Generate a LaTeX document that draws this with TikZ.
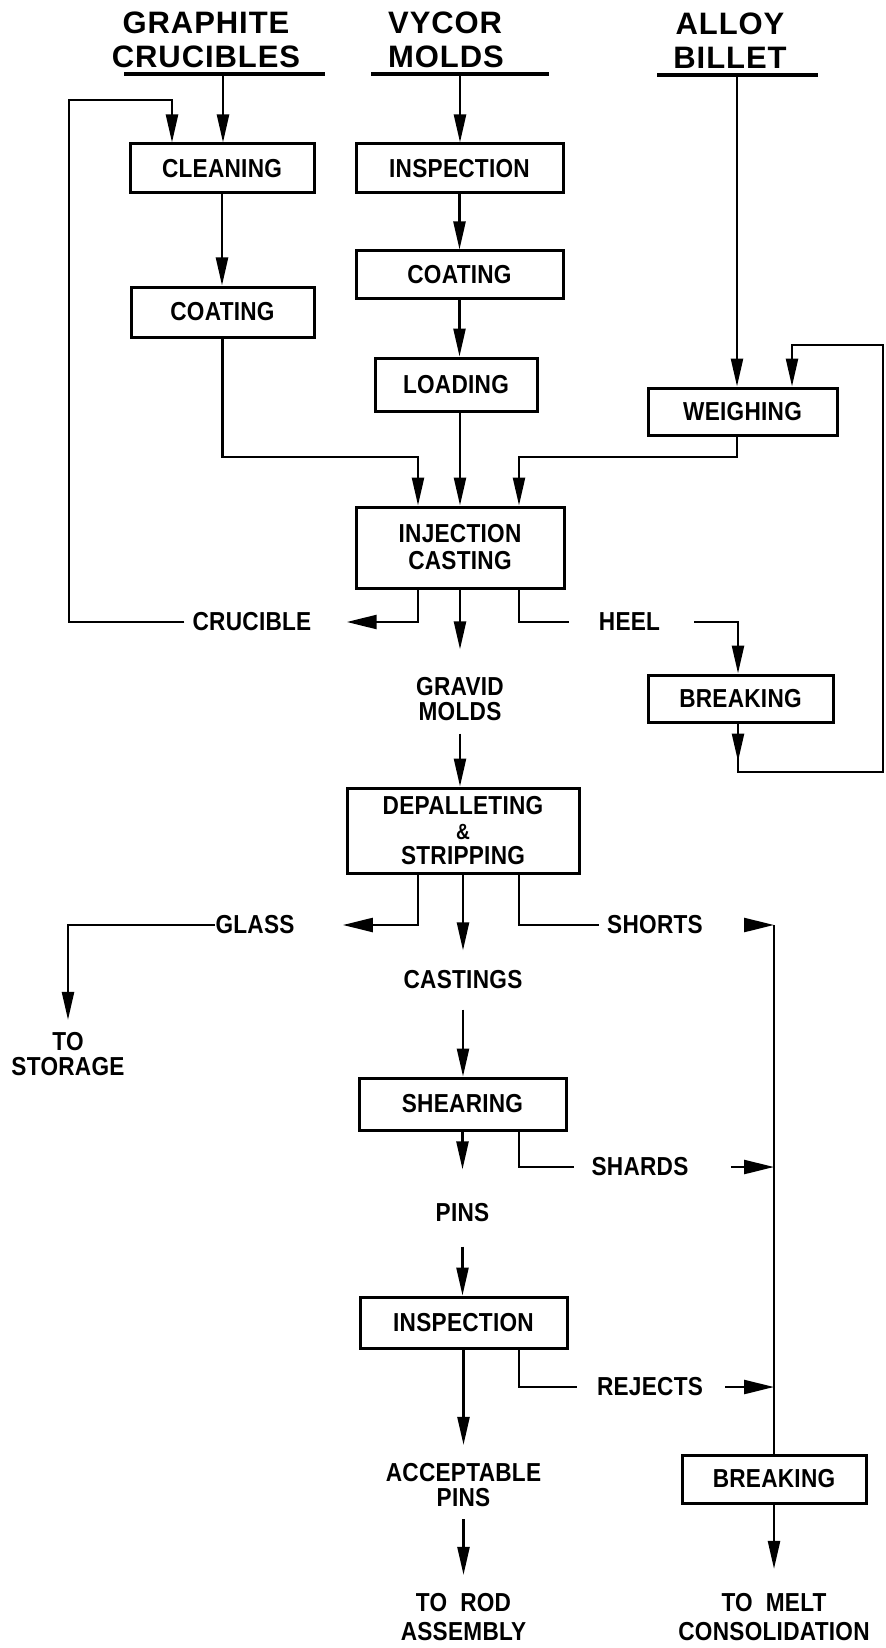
\documentclass[tikz,border=0pt]{standalone}
\usepackage{fontspec}
\setmainfont{Liberation Sans}
\newfontfamily\lbf{Liberation Sans}[FakeStretch=0.87,LetterSpace=1]
\newfontfamily\ttf{Liberation Sans}[LetterSpace=3]
\usetikzlibrary{arrows.meta}
\tikzset{
  pbox/.style={draw, line width=1.5pt, inner sep=0pt, align=center, font=\lbf\bfseries\fontsize{13}{13.5}\selectfont},
  lbl/.style={inner sep=0pt, align=center, font=\lbf\bfseries\fontsize{13}{12.5}\selectfont},
  ttl/.style={inner sep=0pt, font=\ttf\bfseries\fontsize{15.5}{17}\selectfont},
  ln/.style={line width=1.2pt},
  arr/.style={ln, -{Triangle[length=14pt,width=6pt]}},
  harr/.style={ln, -{Triangle[length=15pt,width=7pt]}},
  ul/.style={line width=1.6pt},
}
\begin{document}
\begin{tikzpicture}[x=0.5pt,y=-0.5pt]
\useasboundingbox (0,0) rectangle (885,1648);
% titles
\node[ttl, align=center] (tgr) at (206,39.5) {GRAPHITE\\CRUCIBLES};
\node[ttl, align=left] (tvy) at (446,39.5) {VYCOR\\MOLDS};
\node[ttl, align=center] (tal) at (730,40.5) {ALLOY\\BILLET};
\draw[ul] (124,74) -- (325,74);
\draw[ul] (371,74) -- (549,74);
\draw[ul] (657,75) -- (818,75);
% boxes
\node[pbox, minimum width=92pt, minimum height=24.5pt] (cleaning) at (222,168.5) {CLEANING};
\node[pbox, minimum width=91.5pt, minimum height=25pt] (coatA) at (222.5,312) {COATING};
\node[pbox, minimum width=103.5pt, minimum height=24.5pt] (inspA) at (459.5,168.5) {INSPECTION};
\node[pbox, minimum width=103.5pt, minimum height=23.5pt] (coatB) at (459.5,274.5) {COATING};
\node[pbox, minimum width=81pt, minimum height=26.5pt] (loading) at (456,384.5) {LOADING};
\node[pbox, minimum width=94.5pt, minimum height=23.5pt] (weighing) at (742.5,411.5) {WEIGHING};
\node[pbox, minimum width=104pt, minimum height=40.5pt] (inject) at (460,547.5) {INJECTION\\CASTING};
\node[pbox, minimum width=92.5pt, minimum height=23.5pt] (break1) at (740.5,698.5) {BREAKING};
\node[pbox, minimum width=116pt, minimum height=42.5pt, font=\lbf\bfseries\fontsize{13}{12.5}\selectfont] (depal) at (463,830.5) {DEPALLETING\\{\fontsize{11}{11}\selectfont\&}\\STRIPPING};
\node[pbox, minimum width=103.5pt, minimum height=26pt] (shear) at (462.5,1104) {SHEARING};
\node[pbox, minimum width=103.5pt, minimum height=25.5pt] (inspB) at (463.5,1322.5) {INSPECTION};
\node[pbox, minimum width=92pt, minimum height=24pt] (break2) at (774,1479) {BREAKING};
% labels
\node[lbl] (crucible) at (252,622) {CRUCIBLE};
\node[lbl] (heel) at (629.5,622) {HEEL};
\node[lbl] (gravid) at (460,699.5) {GRAVID\\MOLDS};
\node[lbl] (glass) at (255,925) {GLASS};
\node[lbl] (shorts) at (655,925) {SHORTS};
\node[lbl] (storage) at (68,1054) {TO\\STORAGE};
\node[lbl] (castings) at (463,980) {CASTINGS};
\node[lbl] (shards) at (640,1167) {SHARDS};
\node[lbl] (pins) at (462.5,1213) {PINS};
\node[lbl] (rejects) at (650,1387) {REJECTS};
\node[lbl] (accept) at (463.5,1485) {ACCEPTABLE\\PINS};
\node[lbl, font=\lbf\bfseries\fontsize{13}{14.5}\selectfont] (torod) at (463.5,1617) {TO\ \ ROD\\ASSEMBLY};
\node[lbl, font=\lbf\bfseries\fontsize{13}{14.5}\selectfont] (tomelt) at (774,1617) {TO\ \ MELT\\CONSOLIDATION};
% coordinates
\coordinate (g0) at (223,74);
\coordinate (v0) at (460,74);
\coordinate (a0) at (737,75);
\coordinate (jL) at (418,457);
\coordinate (jR) at (519,457);
\coordinate (lpc) at (69,100);
\coordinate (cl2) at (172,100);
\coordinate (rl1) at (883,772);
\coordinate (rl2) at (792,345);
\coordinate (hb) at (738,622);
\coordinate (tr1) at (774,925);
% connectors
\draw[arr] (g0) -- (g0 |- cleaning.north);
\draw[arr] (v0) -- (v0 |- inspA.north);
\draw[arr] (a0) -- (a0 |- weighing.north);
\draw[arr] (cleaning.south) -- (cleaning.south |- coatA.north);
\draw[arr] (inspA.south) -- (coatB.north);
\draw[arr] (coatB.south) -- (coatB.south |- loading.north);
\draw[arr] (coatA.south) |- (jL) -- (jL |- inject.north);
\draw[arr] (inject.north |- loading.south) -- (inject.north);
\draw[arr] (weighing.south -| a0) |- (jR) -- (jR |- inject.north);
\draw[arr] (break1.south -| hb) |- (rl1) |- (rl2) -- (rl2 |- weighing.north);
\draw[arr] (break1.south -| hb) -- ++(0,38);
\draw[harr] (inject.south -| jL) |- ([xshift=17.5pt]crucible.east);
\draw[arr] ([xshift=-4pt]crucible.west) -| (lpc) -- (cl2) -- (cl2 |- cleaning.north);
\draw[arr] (inject.south) -- ([yshift=14pt]gravid.north);
\draw[ln] (inject.south -| jR) |- ([xshift=-15pt]heel.west);
\draw[arr] ([xshift=17pt]heel.east) -| (break1.north -| hb);
\draw[arr] ([yshift=-6pt]gravid.south) -- (gravid.south |- depal.north);
\draw[harr] (depal.south -| jL) |- ([xshift=24pt]glass.east);
\draw[arr] (glass.west) -| ([yshift=6pt]storage.north);
\draw[arr] (depal.south) -- ([yshift=10pt]castings.north);
\draw[ln] (depal.south -| jR) |- ([xshift=-4pt]shorts.west);
\draw[harr] ([xshift=21.5pt]shorts.east) -- (tr1);
\draw[ln] (tr1) -- (tr1 |- break2.north);
\draw[arr] ([yshift=-10pt]castings.south) -- (castings.south |- shear.north);
\draw[arr] (shear.south) -- ([yshift=17pt]pins.north);
\draw[ln] (shear.south -| jR) |- ([xshift=-8.5pt]shards.west);
\draw[harr] ([xshift=21pt]shards.east) -- (shards.east -| tr1);
\draw[arr] ([yshift=-12pt]pins.south) -- (pins.south |- inspB.north);
\draw[arr] (inspB.south) -- ([yshift=9pt]accept.north);
\draw[ln] (inspB.south -| jR) |- ([xshift=-10pt]rejects.west);
\draw[harr] ([xshift=11pt]rejects.east) -- (rejects.east -| tr1);
\draw[arr] ([yshift=-6pt]accept.south) -- ([yshift=9pt]torod.north);
\draw[arr] (break2.south) -- ([yshift=12pt]tomelt.north);
\end{tikzpicture}
\end{document}
